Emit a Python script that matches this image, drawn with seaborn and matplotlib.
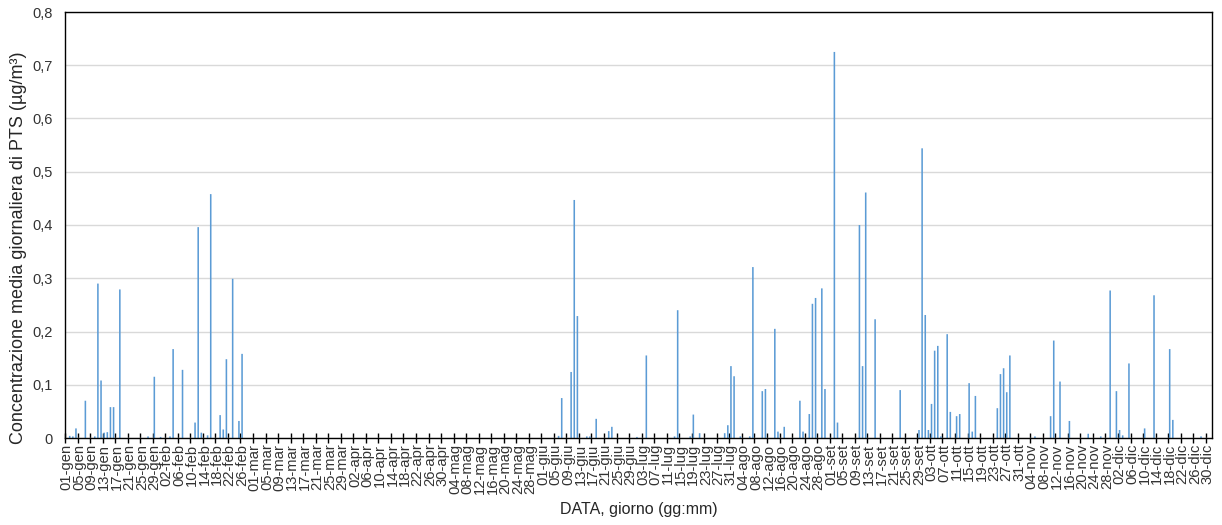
import numpy as np
import pandas as pd
import matplotlib
matplotlib.use("Agg")
import matplotlib.pyplot as plt
import seaborn as sns
from matplotlib.ticker import FuncFormatter

# ---- data -------------------------------------------------------------
MONTHS = ["gen", "feb", "mar", "apr", "mag", "giu", "lug", "ago", "set", "ott", "nov", "dic"]
MONTH_DAYS = [31, 29, 31, 30, 31, 30, 31, 31, 30, 31, 30, 31]

sample_dates = [
    "02-gen", "03-gen", "04-gen", "07-gen", "10-gen", "11-gen", "12-gen", "13-gen",
    "14-gen", "15-gen", "16-gen", "18-gen", "27-gen", "29-gen", "31-gen",
    "03-feb", "04-feb", "07-feb", "11-feb", "12-feb", "13-feb", "15-feb", "16-feb",
    "19-feb", "20-feb", "21-feb", "23-feb", "25-feb", "26-feb",
    "06-giu", "07-giu", "10-giu", "11-giu", "12-giu", "15-giu", "16-giu", "18-giu",
    "22-giu", "23-giu",
    "01-lug", "04-lug", "13-lug", "14-lug", "18-lug", "19-lug", "21-lug", "29-lug",
    "30-lug", "31-lug",
    "01-ago", "03-ago", "06-ago", "07-ago", "10-ago", "11-ago", "14-ago", "15-ago",
    "17-ago", "22-ago", "23-ago", "25-ago", "26-ago", "27-ago", "29-ago", "30-ago",
    "02-set", "03-set", "10-set", "11-set", "12-set", "15-set", "23-set", "29-set",
    "30-set",
    "01-ott", "02-ott", "03-ott", "04-ott", "05-ott", "06-ott", "08-ott", "09-ott",
    "11-ott", "12-ott", "15-ott", "16-ott", "17-ott", "24-ott", "25-ott", "26-ott",
    "27-ott", "28-ott",
    "05-nov", "10-nov", "11-nov", "13-nov", "16-nov", "22-nov", "26-nov", "29-nov",
    "01-dic", "02-dic", "03-dic", "05-dic", "10-dic", "13-dic", "18-dic", "19-dic",
    "28-dic",
]
sample_values = [
    0.004, 0.003, 0.018, 0.070, 0.003, 0.290, 0.108, 0.010,
    0.011, 0.058, 0.058, 0.279, 0.003, 0.115, 0.002,
    0.003, 0.167, 0.128, 0.029, 0.396, 0.010, 0.005, 0.458,
    0.043, 0.016, 0.148, 0.299, 0.032, 0.158,
    0.004, 0.075, 0.124, 0.447, 0.229, 0.003, 0.003, 0.036,
    0.013, 0.021,
    0.002, 0.155, 0.003, 0.240, 0.003, 0.044, 0.009, 0.009,
    0.024, 0.135,
    0.116, 0.003, 0.003, 0.321, 0.088, 0.092, 0.205, 0.012,
    0.021, 0.070, 0.012, 0.045, 0.252, 0.263, 0.281, 0.092,
    0.725, 0.029, 0.400, 0.135, 0.461, 0.223, 0.090, 0.015,
    0.544,
    0.231, 0.015, 0.064, 0.164, 0.173, 0.003, 0.195, 0.049,
    0.041, 0.045, 0.103, 0.012, 0.079, 0.056, 0.120, 0.131,
    0.086, 0.155,
    0.003, 0.041, 0.183, 0.106, 0.032, 0.008, 0.003, 0.277,
    0.088, 0.015, 0.005, 0.140, 0.018, 0.268, 0.167, 0.034,
    0.003,
]

all_dates = [f"{d:02d}-{m}" for m, n in zip(MONTHS, MONTH_DAYS) for d in range(1, n + 1)]
lookup = dict(zip(sample_dates, sample_values))
df = pd.DataFrame({"data": all_dates, "pts": [lookup.get(d, 0.0) for d in all_dates]})

tick_labels = all_dates[::4]

# ---- figure -----------------------------------------------------------
sns.set_theme(style="white")
plt.rcParams["font.family"] = ["Liberation Sans", "DejaVu Sans"]

W, H = 1222, 525
fig = plt.figure(figsize=(W / 100, H / 100), dpi=100)
ax = fig.add_axes([65 / W, (H - 438) / H, 1147 / W, 426 / H])

sns.barplot(data=df, x="data", y="pts", order=all_dates, color="#5B9BD5",
            saturation=1, width=0.5, linewidth=0, ax=ax)
for p in ax.patches:
    p.set_snap(False)

n = len(all_dates)
ax.set_xlim(-0.5, n - 0.5)
ax.set_ylim(0, 0.8)

# y axis
ax.set_yticks(np.arange(0, 0.81, 0.1))
ax.yaxis.set_major_formatter(FuncFormatter(
    lambda v, p: "0" if abs(v) < 1e-9 else f"{v:.1f}".replace(".", ",")))
ax.tick_params(axis="y", length=0, pad=9, labelsize=10.5, labelcolor="#333333")
ax.yaxis.grid(True, color="#D9D9D9", linewidth=1)
ax.set_axisbelow(True)

# x axis: labels every 4 days, tick marks at category boundaries
pos = np.arange(0, n, 4)
ax.set_xticks(pos)
ax.set_xticklabels(tick_labels, rotation=90)
ax.tick_params(axis="x", which="major", length=0, pad=4, labelsize=10.6,
               labelcolor="#333333")
ax.set_xticks(pos - 0.5, minor=True)
ax.tick_params(axis="x", which="minor", direction="inout", length=7.5, width=1,
               color="black", bottom=True)

for s in ax.spines.values():
    s.set_visible(True)
    s.set_color("black")
    s.set_linewidth(1)

ax.set_xlabel("DATA, giorno (gg:mm)", fontsize=11.5, color="#262626")
ax.xaxis.set_label_coords(0.5, -0.150)
ax.set_ylabel("Concentrazione media giornaliera di PTS (µg/m³)", fontsize=13,
              color="#262626")
ax.yaxis.set_label_coords(-0.033, 0.447)

fig.savefig("out.png", dpi=100)
